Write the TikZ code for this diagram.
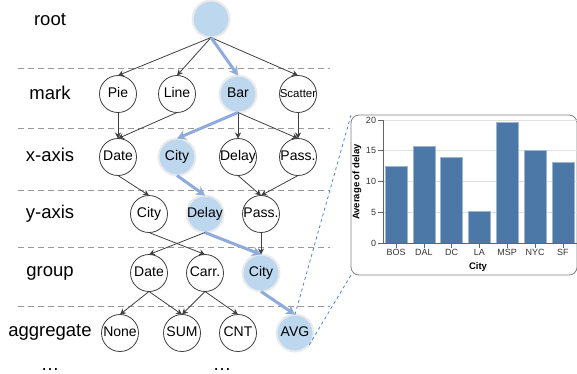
\documentclass[tikz,border=0pt]{standalone}
\usepackage{fontspec}
\setmainfont{Liberation Sans}
\usetikzlibrary{arrows.meta}
\definecolor{hlblue}{HTML}{BDD7EE}
\definecolor{pathblue}{HTML}{8FAADC}
\definecolor{barblue}{HTML}{4C78A8}
\definecolor{linkblue}{HTML}{4A86D0}

\begin{document}
\begin{tikzpicture}[x=1pt,y=-1pt,
  every node/.style={inner sep=0pt, outer sep=0pt},
  choice/.style={circle, draw=black!75, line width=0.8pt, fill=white, minimum size=37pt,
    text height=10pt, text depth=3pt, font=\fontsize{14}{14}\selectfont,
    execute at begin node={\hbox to 0pt\bgroup\hss}, execute at end node={\hss\egroup}},
  chosen/.style={choice, draw=black!8, line width=2pt, fill=hlblue},
  rowlabel/.style={anchor=base, font=\fontsize{18.5}{18.5}\selectfont},
  link/.style={draw=black!75, line width=0.8pt, -{Stealth[length=6pt,width=6pt]}},
  pathlink/.style={draw=pathblue, line width=3pt, -{Stealth[length=9pt,width=10pt]}},
  rowsep/.style={draw=black!40, line width=0.9pt, dash pattern=on 6pt off 4pt},
  ticklabel/.style={font=\fontsize{9}{9}\selectfont, text=black!80},
  axistitle/.style={font=\fontsize{9.5}{9.5}\selectfont\bfseries}]
\useasboundingbox (0,0) rectangle (577,373);

% row separators
\foreach \y in {68,128,190,247,306}
  \draw[rowsep] (18,\y) -- (330,\y);

% row labels
\node[rowlabel] (lroot) at (50,25) {root};
\node[rowlabel] (lmark) at (50,99) {mark};
\node[rowlabel] (lx) at (50,161) {x-axis};
\node[rowlabel] (ly) at (50,218) {y-axis};
\node[rowlabel] (lgroup) at (50,276) {group};
\node[rowlabel] (lagg) at (50,336) {aggregate};
\node[font=\fontsize{18.5}{18.5}\selectfont] (more1) at (50,369) {…};
\node[font=\fontsize{18.5}{18.5}\selectfont] (more2) at (222,369) {…};

% search tree
\node[chosen] (root) at (211,19) {};

\node[choice] (Pie) at (118,94) {Pie};
\node[choice] (Line) at (177,94) {Line};
\node[chosen] (Bar) at (238,94) {Bar};
\node[choice, font=\fontsize{11.5}{11.5}\selectfont] (Scatter) at (298,94) {Scatter};

\node[choice] (xDate) at (118,157) {Date};
\node[chosen] (xCity) at (177,157) {City};
\node[choice] (xDelay) at (238,157) {Delay};
\node[choice] (xPass) at (298,157) {Pass.};

\node[choice] (yCity) at (149,214) {City};
\node[chosen] (yDelay) at (205,214) {Delay};
\node[choice] (yPass) at (261,214) {Pass.};

\node[choice] (gDate) at (149,273) {Date};
\node[choice] (gCarr) at (205,273) {Carr.};
\node[chosen] (gCity) at (261,273) {City};

\node[choice] (aNone) at (120,333) {None};
\node[choice] (aSUM) at (182,333) {SUM};
\node[choice] (aCNT) at (238,333) {CNT};
\node[chosen] (aAVG) at (295,333) {AVG};

\draw[link] (root.south) -- (Pie.north);
\draw[link] (root.south) -- (Line.north);
\draw[link] (root.south) -- (Scatter.north);
\draw[link] (Pie.south) -- (xDate.north);
\draw[link] (Line.south) -- (xDate.north);
\draw[link] (Bar.south) -- (xDelay.north);
\draw[link] (Bar.south) -- (xPass.north);
\draw[link] (Scatter.south) -- (xPass.north);
\draw[link] (xDate.south) -- (yCity.north);
\draw[link] (xDelay.south) -- (yPass.north);
\draw[link] (xPass.south) -- (yPass.north);
\draw[link] (yCity.south) -- (gCarr.north);
\draw[link] (yDelay.south) -- (gDate.north);
\draw[link] (yPass.south) -- (gCity.north);
\draw[link] (gDate.south) -- (aNone.north);
\draw[link] (gDate.south) -- (aSUM.north);
\draw[link] (gCarr.south) -- (aSUM.north);
\draw[link] (gCarr.south) -- (aCNT.north);

% chosen path
\draw[pathlink] (root.south) -- (Bar.north);
\draw[pathlink] (Bar.south) -- (xCity.north);
\draw[pathlink] (xCity.south) -- (yDelay.north);
\draw[pathlink] (yDelay.south) -- (gCity.north);
\draw[pathlink] (gCity.south) -- (aAVG.north);

% chart
\node[draw=black!50, line width=0.8pt, rounded corners=8pt, minimum width=226pt, minimum height=160pt] (chart) at (464,195) {};
\draw[linkblue, dashed, line width=0.8pt] (aAVG.north) -- (chart.north west);
\draw[linkblue, dashed, line width=0.8pt] (aAVG.-40) -- (chart.south west);

\foreach \v in {5,10,15,20}
  \draw[black!12, line width=0.6pt] (383,{243-6.15*\v}) -- (577,{243-6.15*\v});
\foreach \name/\val [count=\i from 0] in {BOS/12.5,DAL/15.8,DC/14,LA/5.1,MSP/19.7,NYC/15.1,SF/13.1} {
  \filldraw[fill=barblue, draw=barblue!55!white, line width=0.5pt]
    ({396+27.8*\i-11},243) rectangle ({396+27.8*\i+11},{243-6.15*\val});
  \draw[black!60, line width=0.6pt] ({396+27.8*\i},243) -- ({396+27.8*\i},248);
  \node[ticklabel, anchor=north] (t\name) at ({396+27.8*\i},249) {\name};
}
\foreach \v in {0,5,10,15,20} {
  \draw[black!60, line width=0.6pt] (378,{243-6.15*\v}) -- (383,{243-6.15*\v});
  \node[ticklabel, anchor=east] (v\v) at (376,{243-6.15*\v}) {\v};
}
\draw[black!60, line width=0.7pt] (383,120) -- (383,243) -- (577,243);
\node[axistitle, rotate=90] (ytitle) at (357,182) {Average of delay};
\node[axistitle] (xtitle) at (478,267) {City};
\end{tikzpicture}
\end{document}
